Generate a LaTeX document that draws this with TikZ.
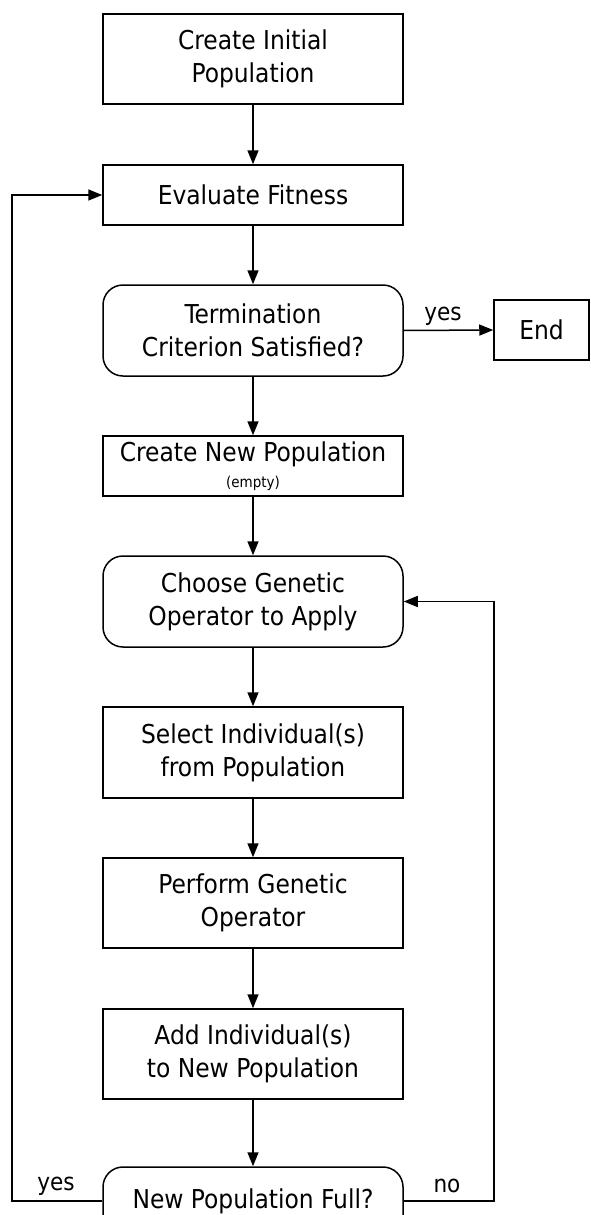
\documentclass[tikz,border=0pt]{standalone}
\usepackage{fontspec}
\setmainfont{DejaVu Sans Condensed}
\usetikzlibrary{arrows.meta}
\begin{document}
\begin{tikzpicture}[x=1pt,y=-1pt,
  every node/.style={font=\fontsize{26}{33}\selectfont},
  box/.style={draw, line width=1.5pt, minimum width=300pt, minimum height=90pt, align=center, inner sep=0pt},
  rbox/.style={box, rounded corners=20pt},
  flow/.style={line width=1.5pt, -{Triangle[length=14pt,width=11pt]}},
  lbl/.style={font=\fontsize{24}{26}\selectfont, inner sep=0pt}]
\useasboundingbox (0,0) rectangle (590,1215);
\node[box] (init) at (253,59) {Create Initial\\Population};
\node[box, minimum height=60pt] (eval) at (253,195) {Evaluate Fitness};
\node[rbox, minimum height=91pt] (term) at (253,330.5) {Termination\\Criterion Satisfied?};
\node[box, minimum width=95pt, minimum height=60pt] (end) at (541.5,330) {End};
\node[box, minimum height=60pt] (newpop) at (253,466) {Create New Population\\[-7pt]{\fontsize{15}{16}\selectfont (empty)}};
\node[rbox, minimum height=91pt] (choose) at (253,601.5) {Choose Genetic\\Operator to Apply};
\node[box, minimum height=91pt] (select) at (253,752.5) {Select Individual(s)\\from Population};
\node[box] (perform) at (253,903) {Perform Genetic\\Operator};
\node[box] (add) at (253,1054) {Add Individual(s)\\to New Population};
\node[rbox, minimum height=68pt] (full) at (253,1201) {New Population Full?};
\coordinate (lb) at (12,1201);
\coordinate (lt) at (12,195);
\coordinate (rb) at (494,1201);
\coordinate (rt) at (494,601.5);
\draw[flow] (init) -- (eval);
\draw[flow] (eval) -- (term);
\draw[flow] (term) -- (newpop);
\draw[flow] (newpop) -- (choose);
\draw[flow] (choose) -- (select);
\draw[flow] (select) -- (perform);
\draw[flow] (perform) -- (add);
\draw[flow] (add) -- (full);
\draw[flow] (term.east) -- (end.west);
\draw[flow] (full.west) -- (lb) -- (lt) -- (eval.west);
\draw[flow] (full.east) -- (rb) -- (rt) -- (choose.east);
\node[lbl] (l1) at (443,316) {yes};
\node[lbl] (l2) at (56,1186) {yes};
\node[lbl] (l3) at (447,1186) {no};
\end{tikzpicture}
\end{document}
